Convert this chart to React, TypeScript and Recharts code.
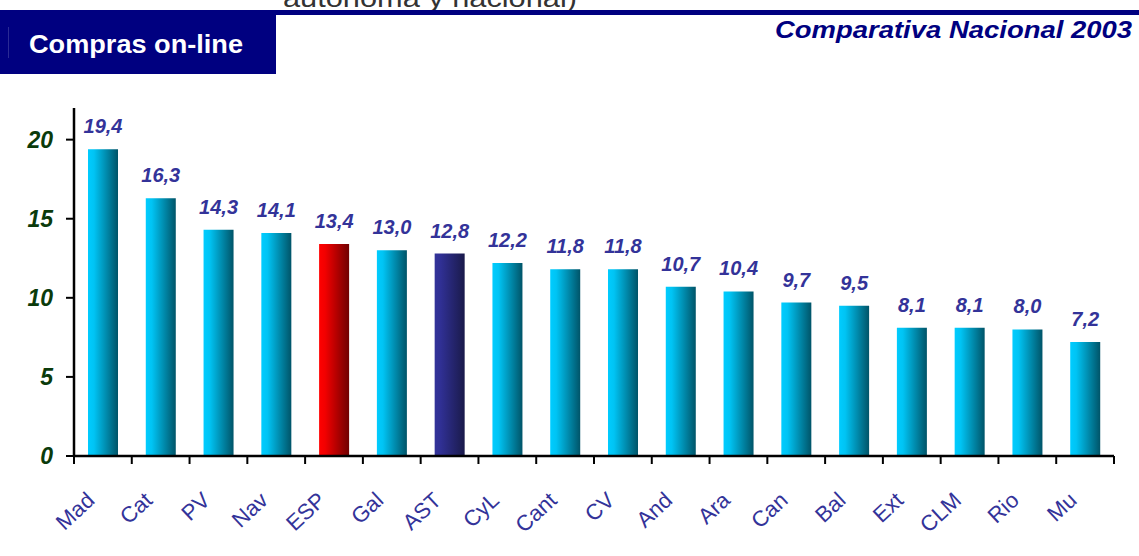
import React from "react";
import { BarChart, Bar, XAxis, YAxis, Cell, LabelList } from "recharts";

// Compras on-line por comunidad (%), 2003
const regiones = ["Mad", "Cat", "PV", "Nav", "ESP", "Gal", "AST", "CyL", "Cant", "CV", "And", "Ara", "Can", "Bal", "Ext", "CLM", "Rio", "Mu"];
const valores = [19.4, 16.3, 14.3, 14.1, 13.4, 13.0, 12.8, 12.2, 11.8, 11.8, 10.7, 10.4, 9.7, 9.5, 8.1, 8.1, 8.0, 7.2];
const yTicks = [0, 5, 10, 15, 20];

const FONT = "'Liberation Sans', Arial, Helvetica, sans-serif";

// gradiente por región (el resto en cian)
const gradPorRegion: Record<string, string> = { ESP: "url(#gRed)", AST: "url(#gNavy)" };

const fmt = (v: number) => v.toFixed(1).replace(".", ",");

// etiqueta girada + marcas entre categorías
const RegionTick = (props: any) => {
  const { x, y, payload, index, width, visibleTicksCount } = props;
  const half = payload?.offset > 0 ? payload.offset : width / visibleTicksCount / 2;
  const last = index === visibleTicksCount - 1;
  return (
    <g>
      <line x1={x - half} y1={y} x2={x - half} y2={y + 8} stroke="#000" strokeWidth={2} />
      {last && <line x1={x + half} y1={y} x2={x + half} y2={y + 8} stroke="#000" strokeWidth={2} />}
      <g transform={`translate(${x - 7},${y + 46}) rotate(-43)`}>
        <text textAnchor="end" fontSize={22} fill="#333399" fontFamily={FONT}>
          {payload.value}
        </text>
      </g>
    </g>
  );
};

export default function App() {
  const data = regiones.map((name, i) => ({ name, value: valores[i] }));

  return (
    <div style={{ position: "absolute", left: 0, top: 0, width: 1139, height: 556, overflow: "hidden", background: "#fff", fontFamily: FONT }}>
      <svg width={1139} height={90} style={{ position: "absolute", left: 0, top: 0 }}>
        <text x={283} y={7} fontSize={26} fill="#333" textLength={294} lengthAdjust="spacingAndGlyphs" fontFamily={FONT}>
          autónoma y nacional)
        </text>
        <rect x={0} y={10} width={1139} height={5} fill="#000080" />
        <rect x={0} y={10} width={276} height={64} fill="#000080" />
        <rect x={8} y={27} width={1} height={31} fill="#2a2a95" />
        <text x={29} y={53} fontSize={26} fontWeight="bold" fill="#fff" textLength={214} lengthAdjust="spacingAndGlyphs" fontFamily={FONT}>
          Compras on-line
        </text>
        <text x={775} y={38} fontSize={24} fontWeight="bold" fontStyle="italic" fill="#000080" textLength={357} lengthAdjust="spacingAndGlyphs" fontFamily={FONT}>
          Comparativa Nacional 2003
        </text>
      </svg>

      <BarChart width={1139} height={556} data={data} margin={{ top: 108, right: 25, bottom: 40, left: 0 }}>
        <defs>
          <linearGradient id="gCyan" x1="0" y1="0" x2="1" y2="0">
            <stop offset="0%" stopColor="#00ccff" />
            <stop offset="20%" stopColor="#00c4f4" />
            <stop offset="100%" stopColor="#005468" />
          </linearGradient>
          <linearGradient id="gRed" x1="0" y1="0" x2="1" y2="0">
            <stop offset="0%" stopColor="#ff0000" />
            <stop offset="20%" stopColor="#f20000" />
            <stop offset="100%" stopColor="#700000" />
          </linearGradient>
          <linearGradient id="gNavy" x1="0" y1="0" x2="1" y2="0">
            <stop offset="0%" stopColor="#333399" />
            <stop offset="20%" stopColor="#303094" />
            <stop offset="100%" stopColor="#1a1a4a" />
          </linearGradient>
        </defs>

        <XAxis
          dataKey="name"
          type="category"
          height={60}
          interval={0}
          tickSize={0}
          tickMargin={0}
          tickLine={false}
          axisLine={{ stroke: "#000", strokeWidth: 2.5 }}
          tick={<RegionTick />}
        />
        <YAxis
          domain={[0, 22]}
          ticks={yTicks}
          width={74}
          tickSize={8}
          tickMargin={13}
          tickLine={{ stroke: "#000", strokeWidth: 2 }}
          axisLine={{ stroke: "#000", strokeWidth: 2.5 }}
          tick={{ fill: "#0b3b0b", fontSize: 23, fontStyle: "italic", fontWeight: "bold", fontFamily: FONT }}
        />

        <Bar dataKey="value" barSize={30} isAnimationActive={false}>
          {data.map((d) => (
            <Cell key={d.name} fill={gradPorRegion[d.name] ?? "url(#gCyan)"} />
          ))}
          <LabelList
            dataKey="value"
            position="top"
            offset={16}
            formatter={(v: any) => fmt(Number(v))}
            fill="#333399"
            fontSize={20}
            fontStyle="italic"
            fontWeight="bold"
            fontFamily={FONT}
          />
        </Bar>
      </BarChart>
    </div>
  );
}
